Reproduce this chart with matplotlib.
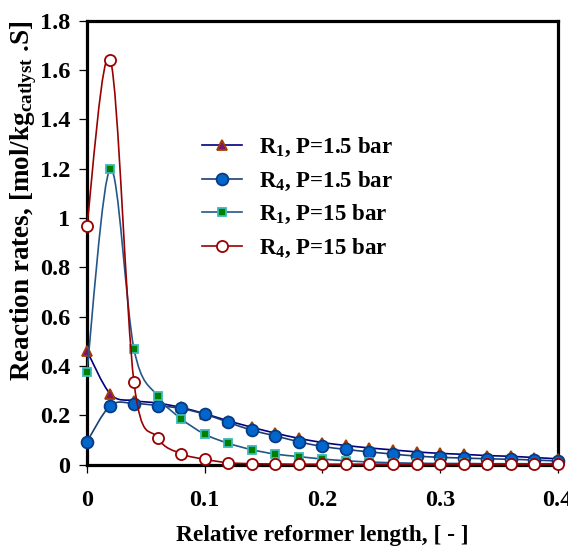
import numpy as np
import matplotlib
matplotlib.use('Agg')
import matplotlib.pyplot as plt
from matplotlib.path import Path
from matplotlib.patches import PathPatch
from matplotlib.lines import Line2D

# ---------------------------------------------------------------------------
# Data
# ---------------------------------------------------------------------------
x = [0.00, 0.02, 0.04, 0.06, 0.08, 0.10, 0.12, 0.14, 0.16, 0.18, 0.20,
     0.22, 0.24, 0.26, 0.28, 0.30, 0.32, 0.34, 0.36, 0.38, 0.40]

r1_p1_5 = [0.462, 0.286, 0.260, 0.250, 0.232, 0.207, 0.178, 0.152, 0.128, 0.107, 0.090,
           0.078, 0.068, 0.060, 0.052, 0.046, 0.042, 0.037, 0.034, 0.029, 0.024]
r4_p1_5 = [0.093, 0.240, 0.248, 0.240, 0.228, 0.205, 0.172, 0.140, 0.117, 0.093, 0.074,
           0.062, 0.052, 0.043, 0.035, 0.030, 0.027, 0.024, 0.022, 0.019, 0.015]
r1_p15 = [0.377, 1.200, 0.469, 0.278, 0.187, 0.124, 0.087, 0.061, 0.043, 0.033, 0.023,
          0.016, 0.011, 0.008, 0.006, 0.005, 0.005, 0.004, 0.004, 0.004, 0.004]
r4_p15 = [0.970, 1.642, 0.334, 0.109, 0.045, 0.022, 0.008, 0.004, 0.003, 0.002, 0.002,
          0.002, 0.002, 0.002, 0.002, 0.002, 0.002, 0.002, 0.002, 0.002, 0.002]

labels = ['R$_1$, P=1.5 bar', 'R$_4$, P=1.5 bar', 'R$_1$, P=15 bar', 'R$_4$, P=15 bar']

x_ticks = [0, 0.1, 0.2, 0.3, 0.4]
x_ticklabels = ['0', '0.1', '0.2', '0.3', '0.4']
y_ticks = [0, 0.2, 0.4, 0.6, 0.8, 1.0, 1.2, 1.4, 1.6, 1.8]
y_ticklabels = ['0', '0.2', '0.4', '0.6', '0.8', '1', '1.2', '1.4', '1.6', '1.8']

# ---------------------------------------------------------------------------
# Style
# ---------------------------------------------------------------------------
plt.rcParams.update({
    'font.family': 'Liberation Serif',
    'font.weight': 'bold',
    'mathtext.fontset': 'custom',
    'mathtext.rm': 'Liberation Serif:bold',
    'mathtext.it': 'Liberation Serif:bold',
    'mathtext.bf': 'Liberation Serif:bold',
})

STYLES = [
    dict(color='#000080', marker='^', mfc='#7B1470', mec='#A83C00', ms=7.5),
    dict(color='#1B3F73', marker='o', mfc='#0066CC', mec='#0A3A80', ms=8.5),
    dict(color='#24568A', marker='s', mfc='#008000', mec='#3CB8B8', ms=6.0),
    dict(color='#990000', marker='o', mfc='white', mec='#990000', ms=8.0),
]


def smooth_path(xs, ys):
    """Excel-like smoothed line: Catmull-Rom segments as cubic Beziers."""
    pts = np.column_stack([xs, ys]).astype(float)
    ext = np.vstack([pts[0], pts, pts[-1]])
    verts = [pts[0]]
    codes = [Path.MOVETO]
    for i in range(1, len(ext) - 2):
        p0, p1, p2, p3 = ext[i - 1], ext[i], ext[i + 1], ext[i + 2]
        verts += [p1 + (p2 - p0) / 6.0, p2 - (p3 - p1) / 6.0, p2]
        codes += [Path.CURVE4] * 3
    return Path(verts, codes)


fig = plt.figure(figsize=(5.68, 5.48), dpi=100)
ax = fig.add_axes([0.153, 0.152, 0.829, 0.810])

handles = []
series = [r1_p1_5, r4_p1_5, r1_p15, r4_p15]
for k, (ys, st, lab) in enumerate(zip(series, STYLES, labels)):
    patch = PathPatch(smooth_path(x, ys), fill=False, edgecolor=st['color'],
                      lw=1.2, zorder=3 + 2 * k)
    ax.add_patch(patch)
    ax.plot(x, ys, ls='none', marker=st['marker'], ms=st['ms'],
            mfc=st['mfc'], mec=st['mec'], mew=1.3, zorder=4 + 2 * k, clip_on=False)
    handles.append(Line2D([], [], color=st['color'], lw=1.2, marker=st['marker'],
                          ms=st['ms'], mfc=st['mfc'], mec=st['mec'], mew=1.3, label=lab))

ax.set_xlim(0, 0.4)
ax.set_ylim(0, 1.8)
ax.set_xticks(x_ticks)
ax.set_xticklabels(x_ticklabels)
ax.set_yticks(y_ticks)
ax.set_yticklabels(y_ticklabels)
ax.tick_params(axis='both', direction='out', length=5.5, width=0.9,
               labelsize=17.5, top=False, right=False)
ax.tick_params(axis='x', pad=13)
ax.tick_params(axis='y', pad=6.5)
for lab in ax.get_xticklabels() + ax.get_yticklabels():
    lab.set_fontweight('bold')

for spine in ax.spines.values():
    spine.set_linewidth(2.3)
    spine.set_color('black')

ax.set_xlabel('Relative reformer length, [ - ]', fontsize=16.8, fontweight='bold')
ax.xaxis.set_label_coords(0.5, -0.135)
ax.set_ylabel('Reaction rates, [mol/kg$_{\\mathrm{catlyst}}$ .S]', fontsize=19.5,
              fontweight='bold')
ax.yaxis.set_label_coords(-0.102, 0.594)

fig.legend(handles=handles, loc='upper left', bbox_to_anchor=(0.356, 0.752),
           bbox_transform=fig.transFigure, frameon=False,
           borderpad=0, borderaxespad=0, handlelength=1.75, handletextpad=0.75,
           labelspacing=0.46, prop={'weight': 'bold', 'size': 16.5})

fig.savefig('out.png', dpi=100)
